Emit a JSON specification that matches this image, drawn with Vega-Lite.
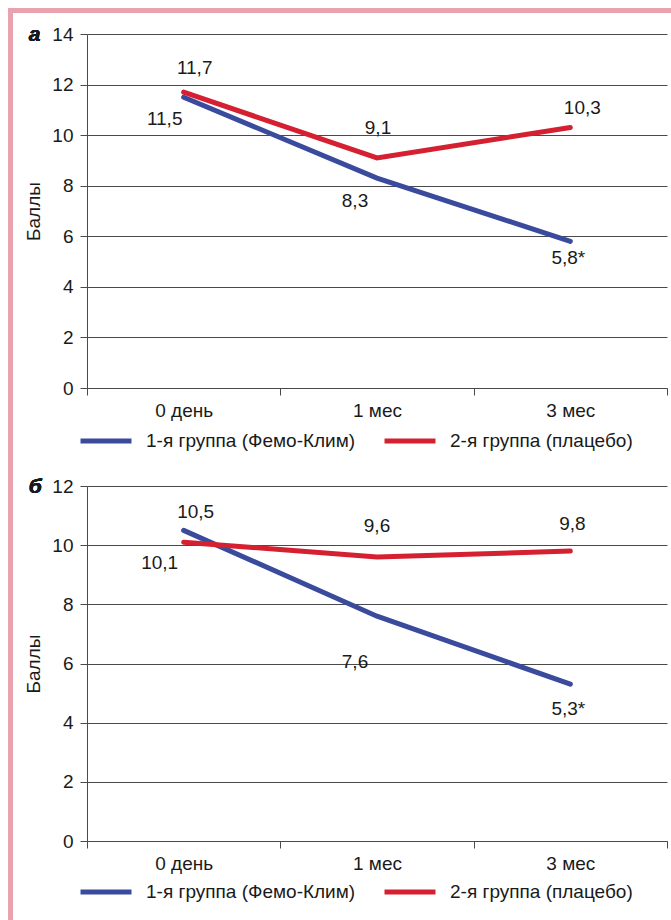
{
  "$schema": "https://vega.github.io/schema/vega-lite/v6.json",
  "padding": {"top": 8, "left": 8, "right": 0, "bottom": 0},
  "background": "white",
  "config": {
    "font": "Liberation Sans",
    "view": {"stroke": null},
    "axis": {"labelFont": "Liberation Sans", "titleFont": "Liberation Sans"},
    "legend": {"labelFont": "Liberation Sans"}
  },
  "datasets": {
    "a": [
      {"time": "0 день", "group": "1-я группа (Фемо-Клим)", "value": 11.5, "label": "11,5"},
      {"time": "1 мес", "group": "1-я группа (Фемо-Клим)", "value": 8.3, "label": "8,3"},
      {"time": "3 мес", "group": "1-я группа (Фемо-Клим)", "value": 5.8, "label": "5,8*"},
      {"time": "0 день", "group": "2-я группа (плацебо)", "value": 11.7, "label": "11,7"},
      {"time": "1 мес", "group": "2-я группа (плацебо)", "value": 9.1, "label": "9,1"},
      {"time": "3 мес", "group": "2-я группа (плацебо)", "value": 10.3, "label": "10,3"}
    ],
    "b": [
      {"time": "0 день", "group": "1-я группа (Фемо-Клим)", "value": 10.5, "label": "10,5"},
      {"time": "1 мес", "group": "1-я группа (Фемо-Клим)", "value": 7.6, "label": "7,6"},
      {"time": "3 мес", "group": "1-я группа (Фемо-Клим)", "value": 5.3, "label": "5,3*"},
      {"time": "0 день", "group": "2-я группа (плацебо)", "value": 10.1, "label": "10,1"},
      {"time": "1 мес", "group": "2-я группа (плацебо)", "value": 9.6, "label": "9,6"},
      {"time": "3 мес", "group": "2-я группа (плацебо)", "value": 9.8, "label": "9,8"}
    ],
    "blank": [{}]
  },
  "vconcat": [
    {
      "width": 700, "height": 5,
      "view": {"fill": "#e8a3ae", "stroke": null},
      "data": {"name": "blank"},
      "mark": {"type": "point", "size": 1, "opacity": 0},
      "encoding": {}
    },
    {
      "hconcat": [
        {
          "width": 5, "height": 920,
          "view": {"fill": "#e8a3ae", "stroke": null},
          "data": {"name": "blank"},
          "mark": {"type": "point", "size": 1, "opacity": 0},
          "encoding": {}
        },
        {
          "vconcat": [
            {
              "width": 2, "height": 11,
              "data": {"name": "blank"},
              "mark": {"type": "point", "size": 1, "opacity": 0},
              "encoding": {}
            },
            {
              "resolve": {"scale": {"color": "independent"}},
              "vconcat": [
                {
                  "width": 580, "height": 354,
                  "data": {"name": "a"},
                  "encoding": {
                    "x": {"field": "time", "type": "nominal", "sort": ["0 день", "1 мес", "3 мес"], "scale": {"paddingInner": 0, "paddingOuter": 0},
                      "axis": {"title": null, "labelAngle": 0, "tickBand": "extent", "ticks": true, "tickSize": 7, "tickColor": "#4a4a4a", "domain": true, "domainColor": "#4a4a4a", "grid": false, "labelFontSize": 19, "labelPadding": 6, "labelColor": "#1a1a1a"}},
                    "y": {"field": "value", "type": "quantitative", "scale": {"domain": [0, 14]},
                      "axis": {"title": "Баллы", "titleFontSize": 19, "titleFontWeight": "normal", "titleColor": "#1a1a1a", "titlePadding": 8, "values": [0, 2, 4, 6, 8, 10, 12, 14], "grid": true, "gridColor": "#4a4a4a", "gridWidth": 1, "gridOpacity": 1, "domain": true, "domainColor": "#4a4a4a", "ticks": true, "tickSize": 7, "tickColor": "#4a4a4a", "labelFontSize": 19, "labelPadding": 7, "labelColor": "#1a1a1a"}}
                  },
                  "layer": [
                    {
                      "mark": {"type": "line", "strokeWidth": 5, "strokeCap": "round"},
                      "encoding": {
                        "color": {"field": "group", "type": "nominal", "scale": {"domain": ["1-я группа (Фемо-Клим)", "2-я группа (плацебо)"], "range": ["#3a4a9c", "#d42030"]},
                          "legend": {"orient": "none", "legendX": -9, "legendY": 379, "direction": "horizontal", "columns": 2, "title": null, "symbolType": "stroke", "symbolSize": 2600, "symbolStrokeWidth": 5, "labelFontSize": 19, "labelOffset": 12, "columnPadding": 18, "padding": 0, "labelLimit": 400, "labelColor": "#1a1a1a"}}
                      }
                    },
                    {"mark": {"type": "text", "fontSize": 21, "fontStyle": "italic", "fontWeight": "bold", "color": "#1a1a1a", "align": "left", "baseline": "alphabetic", "dx": -155, "dy": 7}, "encoding": {"x": {"datum": "0 день"}, "y": {"datum": 14}, "text": {"value": "а"}}},
                    {"transform": [{"filter": "datum.label == '11,5'"}], "mark": {"type": "text", "fontSize": 19, "color": "#1a1a1a", "dx": -19, "dy": 22}, "encoding": {"text": {"field": "label"}}},
                    {"transform": [{"filter": "datum.label == '8,3'"}], "mark": {"type": "text", "fontSize": 19, "color": "#1a1a1a", "dx": -22, "dy": 23}, "encoding": {"text": {"field": "label"}}},
                    {"transform": [{"filter": "datum.label == '5,8*'"}], "mark": {"type": "text", "fontSize": 19, "color": "#1a1a1a", "dx": -2, "dy": 17}, "encoding": {"text": {"field": "label"}}},
                    {"transform": [{"filter": "datum.label == '11,7'"}], "mark": {"type": "text", "fontSize": 19, "color": "#1a1a1a", "dx": 11, "dy": -24}, "encoding": {"text": {"field": "label"}}},
                    {"transform": [{"filter": "datum.label == '9,1'"}], "mark": {"type": "text", "fontSize": 19, "color": "#1a1a1a", "dx": 1, "dy": -30}, "encoding": {"text": {"field": "label"}}},
                    {"transform": [{"filter": "datum.label == '10,3'"}], "mark": {"type": "text", "fontSize": 19, "color": "#1a1a1a", "dx": 12, "dy": -20}, "encoding": {"text": {"field": "label"}}}
                  ]
                },
                {
                  "width": 580, "height": 355,
                  "data": {"name": "b"},
                  "encoding": {
                    "x": {"field": "time", "type": "nominal", "sort": ["0 день", "1 мес", "3 мес"], "scale": {"paddingInner": 0, "paddingOuter": 0},
                      "axis": {"title": null, "labelAngle": 0, "tickBand": "extent", "ticks": true, "tickSize": 7, "tickColor": "#4a4a4a", "domain": true, "domainColor": "#4a4a4a", "grid": false, "labelFontSize": 19, "labelPadding": 6, "labelColor": "#1a1a1a"}},
                    "y": {"field": "value", "type": "quantitative", "scale": {"domain": [0, 12]},
                      "axis": {"title": "Баллы", "titleFontSize": 19, "titleFontWeight": "normal", "titleColor": "#1a1a1a", "titlePadding": 8, "values": [0, 2, 4, 6, 8, 10, 12], "grid": true, "gridColor": "#4a4a4a", "gridWidth": 1, "gridOpacity": 1, "domain": true, "domainColor": "#4a4a4a", "ticks": true, "tickSize": 7, "tickColor": "#4a4a4a", "labelFontSize": 19, "labelPadding": 7, "labelColor": "#1a1a1a"}}
                  },
                  "layer": [
                    {
                      "mark": {"type": "line", "strokeWidth": 5, "strokeCap": "round"},
                      "encoding": {
                        "color": {"field": "group", "type": "nominal", "scale": {"domain": ["1-я группа (Фемо-Клим)", "2-я группа (плацебо)"], "range": ["#3a4a9c", "#d42030"]},
                          "legend": {"orient": "none", "legendX": -9, "legendY": 378, "direction": "horizontal", "columns": 2, "title": null, "symbolType": "stroke", "symbolSize": 2600, "symbolStrokeWidth": 5, "labelFontSize": 19, "labelOffset": 12, "columnPadding": 18, "padding": 0, "labelLimit": 400, "labelColor": "#1a1a1a"}}
                      }
                    },
                    {"mark": {"type": "text", "fontSize": 21, "fontStyle": "italic", "fontWeight": "bold", "color": "#1a1a1a", "align": "left", "baseline": "alphabetic", "dx": -155, "dy": 7}, "encoding": {"x": {"datum": "0 день"}, "y": {"datum": 12}, "text": {"value": "б"}}},
                    {"transform": [{"filter": "datum.label == '10,5'"}], "mark": {"type": "text", "fontSize": 19, "color": "#1a1a1a", "dx": 12, "dy": -18}, "encoding": {"text": {"field": "label"}}},
                    {"transform": [{"filter": "datum.label == '7,6'"}], "mark": {"type": "text", "fontSize": 19, "color": "#1a1a1a", "dx": -22, "dy": 46}, "encoding": {"text": {"field": "label"}}},
                    {"transform": [{"filter": "datum.label == '5,3*'"}], "mark": {"type": "text", "fontSize": 19, "color": "#1a1a1a", "dx": -2, "dy": 25}, "encoding": {"text": {"field": "label"}}},
                    {"transform": [{"filter": "datum.label == '10,1'"}], "mark": {"type": "text", "fontSize": 19, "color": "#1a1a1a", "dx": -24, "dy": 21}, "encoding": {"text": {"field": "label"}}},
                    {"transform": [{"filter": "datum.label == '9,6'"}], "mark": {"type": "text", "fontSize": 19, "color": "#1a1a1a", "dx": 0, "dy": -31}, "encoding": {"text": {"field": "label"}}},
                    {"transform": [{"filter": "datum.label == '9,8'"}], "mark": {"type": "text", "fontSize": 19, "color": "#1a1a1a", "dx": 2, "dy": -27}, "encoding": {"text": {"field": "label"}}}
                  ]
                }
              ],
              "spacing": 25
            }
          ],
          "spacing": 0
        }
      ],
      "spacing": 11
    }
  ],
  "spacing": 0
}
